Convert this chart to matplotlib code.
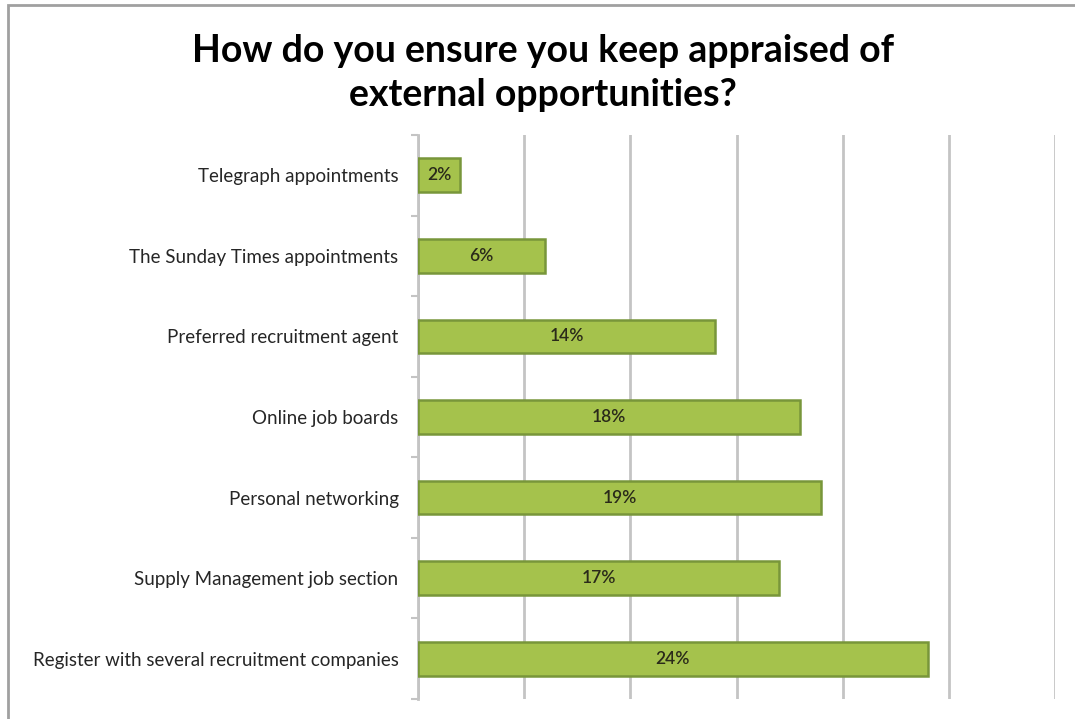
import matplotlib.pyplot as plt
from matplotlib.patches import Rectangle

# Survey answers, top to bottom
categories = [
    'Telegraph appointments',
    'The Sunday Times appointments',
    'Preferred recruitment agent',
    'Online job boards',
    'Personal networking',
    'Supply Management job section',
    'Register with several recruitment companies',
]
percentages = [2, 6, 14, 18, 19, 17, 24]

BAR_COLOR = '#a5c24c'
EDGE_COLOR = '#78963a'
GRID_COLOR = '#c4c4c4'

plt.rcParams['font.family'] = ['Lato', 'DejaVu Sans']

fig = plt.figure(figsize=(10.75, 7.19), dpi=100)
fig.patch.set_facecolor('white')

# thin frame round the slide
fig.patches.append(Rectangle((8 / 1075, -0.1), 1.2, 1 - 5 / 719 + 0.1,
                             transform=fig.transFigure, fill=False,
                             edgecolor='#a0a0a0', linewidth=2))

ax = fig.add_axes([418 / 1075, 20 / 719, 637 / 1075, 564 / 719])
positions = range(len(categories))
bars = ax.barh(positions, percentages, height=0.42, color=BAR_COLOR,
               edgecolor=EDGE_COLOR, linewidth=1.8, zorder=3)

for bar, value in zip(bars, percentages):
    ax.text(bar.get_width() / 2, bar.get_y() + bar.get_height() / 2,
            f'{value}%', ha='center', va='center', fontsize=12.5,
            fontweight='semibold', color='#2a2a1a', zorder=4)

ax.set_xlim(0, 30)
ax.set_ylim(len(categories) - 0.5, -0.5)
ax.set_xticks(range(0, 31, 5))
ax.tick_params(axis='x', length=0, labelbottom=False)
ax.grid(axis='x', color=GRID_COLOR, linewidth=2, zorder=0)

ax.set_yticks(list(positions))
ax.set_yticklabels(categories, fontsize=13.5, color='#262626')
ax.set_yticks([p - 0.5 for p in range(len(categories) + 1)], minor=True)
ax.tick_params(axis='y', which='major', length=0, pad=14)
ax.tick_params(axis='y', which='minor', length=5, color=GRID_COLOR, width=1.5)

for side in ['top', 'right', 'bottom']:
    ax.spines[side].set_visible(False)
ax.spines['left'].set_color(GRID_COLOR)
ax.spines['left'].set_linewidth(2)

fig.text(543 / 1075, 1 - 73 / 719,
         'How do you ensure you keep appraised of\nexternal opportunities?',
         ha='center', va='center', fontsize=27, fontweight='bold',
         linespacing=1.36, color='black')

fig.savefig('out.png', dpi=100)
